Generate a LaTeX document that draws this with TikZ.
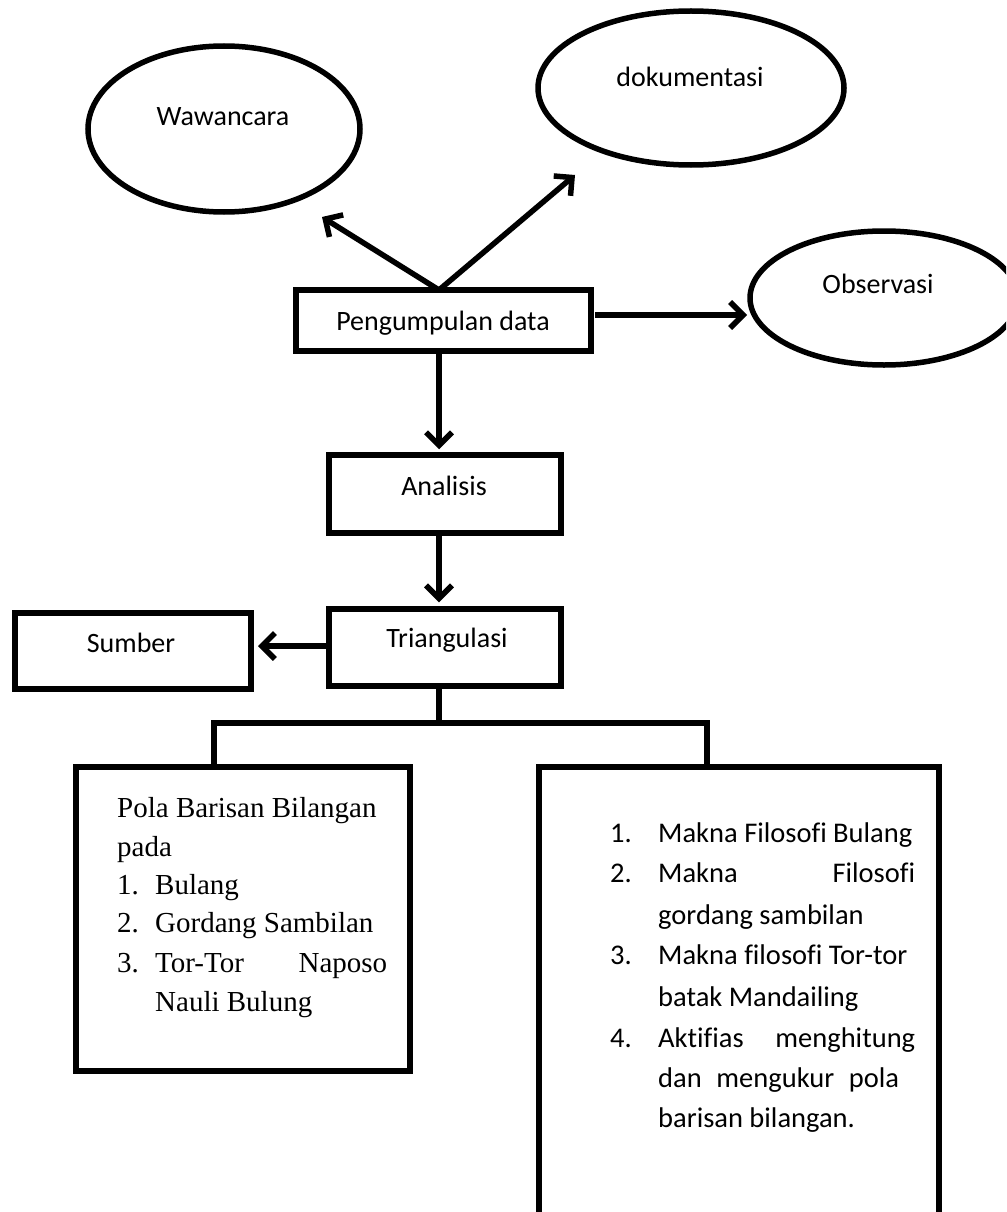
\documentclass[tikz,border=0pt]{standalone}
\usepackage{fontspec}
\setmainfont{Carlito}[Ligatures=CommonOff]
\newfontfamily\tnr{Liberation Serif}
\usetikzlibrary{shapes.geometric,arrows.meta}
\begin{document}
\begin{tikzpicture}[x=1pt,y=-1pt,
  shape line/.style={draw, line width=5.5pt, inner sep=0pt},
  boxnode/.style={shape line, rectangle, line join=miter},
  ovalnode/.style={shape line, ellipse},
  lab/.style={font=\fontsize{28}{34}\selectfont, anchor=base, inner sep=0pt},
  ltxt/.style={font=\tnr\fontsize{29}{34}\selectfont, anchor=base west, inner sep=0pt},
  rtxt/.style={font=\fontsize{28.5}{34}\selectfont, anchor=base west, inner sep=0pt},
  arr/.style={line width=5.5pt, -{Straight Barb[length=13pt,width=26pt]}},
  link/.style={line width=5.5pt, line join=miter}]
\useasboundingbox (0,0) rectangle (1006,1212);
\clip (0,0) rectangle (1006,1212);
\fill[white] (0,0) rectangle (1006,1212);

% ellipses
\node[ovalnode, minimum width=272pt, minimum height=166pt] (waw) at (224,129) {};
\node[lab] (wawt) at (223,125) {Wawancara};
\node[ovalnode, minimum width=306pt, minimum height=154pt] (dok) at (691,88) {};
\node[lab] (dokt) at (690,87) {dokumentasi};
\node[ovalnode, minimum width=268pt, minimum height=134pt] (obs) at (884,298) {};
\node[lab] (obst) at (878,293) {Observasi};

% boxes
\node[boxnode, minimum width=295pt, minimum height=61pt] (peng) at (443.5,320.5) {};
\node[lab] (pengt) at (443,330) {Pengumpulan data};
\node[boxnode, minimum width=232pt, minimum height=78pt] (ana) at (445,494) {};
\node[lab] (anat) at (444,495) {Analisis};
\node[boxnode, minimum width=232pt, minimum height=77pt] (tri) at (445,647.5) {};
\node[lab] (trit) at (447,647) {Triangulasi};
\node[boxnode, minimum width=236pt, minimum height=76pt] (sum) at (133,651) {};
\node[lab] (sumt) at (131,652) {Sumber};
\node[boxnode, minimum width=334pt, minimum height=304pt] (lbox) at (243,919) {};
\node[boxnode, minimum width=400pt, minimum height=461pt] (rbox) at (739,997.5) {};

% coordinates
\coordinate (stem) at (439,0);
\coordinate (pstart) at (439,290);
\coordinate (wtip) at (322,217);
\coordinate (dtip) at (575,175);
\coordinate (ostart) at (595,315);
\coordinate (otip) at (747,315);
\coordinate (stip) at (258,646);
\coordinate (split) at (439,723);
\coordinate (lx) at (214,0);
\coordinate (rx) at (707,0);

% connectors
\draw[arr] (pstart) -- (wtip);
\draw[arr] (pstart) -- (dtip);
\draw[arr] (ostart) -- (otip);
\draw[arr] (peng.south -| stem) -- ([yshift=3pt]ana.north -| stem);
\draw[arr] (ana.south -| stem) -- ([yshift=4pt]tri.north -| stem);
\draw[arr] (tri.west |- stip) -- (stip);
\draw[link] (tri.south -| stem) -- (split);
\draw[link] (lbox.north -| lx) |- (split) -| (rbox.north -| rx);

% left box text
\node[ltxt] (l1) at (117,817) {Pola Barisan Bilangan};
\node[ltxt] (l2) at (117,856) {pada};
\node[ltxt] (l3n) at (117,894) {1.};
\node[ltxt] (l3) at (155,894) {Bulang};
\node[ltxt] (l4n) at (117,932) {2.};
\node[ltxt] (l4) at (155,932) {Gordang Sambilan};
\node[ltxt] (l5n) at (117,972) {3.};
\node[ltxt] (l5) at (155,972) {\hbox to 232pt{Tor-Tor\hfill Naposo}};
\node[ltxt] (l6) at (155,1011) {Nauli Bulung};

% right box text
\node[rtxt] (r1n) at (610,842) {1.};
\node[rtxt] (r1) at (658,842) {Makna Filosofi Bulang};
\node[rtxt] (r2n) at (610,882) {2.};
\node[rtxt] (r2) at (658,882) {\hbox to 257pt{Makna\hfill Filosofi}};
\node[rtxt] (r3) at (658,924) {gordang sambilan};
\node[rtxt] (r4n) at (610,964) {3.};
\node[rtxt] (r4) at (658,964) {Makna filosofi Tor-tor};
\node[rtxt] (r5) at (658,1006) {batak Mandailing};
\node[rtxt] (r6n) at (610,1047) {4.};
\node[rtxt] (r6) at (658,1047) {\hbox to 257pt{Aktifias\hfill menghitung}};
\node[rtxt] (r7) at (658,1087) {\hbox to 241pt{dan\hfill mengukur\hfill pola}};
\node[rtxt] (r8) at (658,1127) {barisan bilangan.};
\end{tikzpicture}
\end{document}
